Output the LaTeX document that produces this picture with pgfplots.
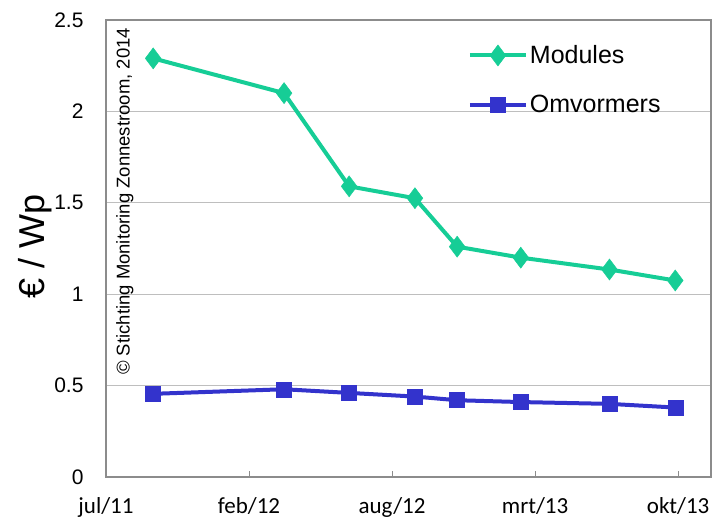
\documentclass[border=0pt]{standalone}
\usepackage{fontspec}
\setmainfont{Liberation Sans}
\newfontfamily\calibri{Carlito}
\usepackage{pgfplots}
\pgfplotsset{compat=1.18}
\definecolor{modgreen}{RGB}{22,205,150}
\definecolor{omvblue}{RGB}{51,51,204}
\definecolor{gridgray}{RGB}{190,190,190}
\definecolor{axgray}{RGB}{140,140,140}
\begin{document}
\begin{tikzpicture}
\useasboundingbox (0,0) rectangle (712bp,520bp);
\begin{axis}[
  at={(106bp,43bp)}, anchor=south west,
  width=605bp, height=457bp, scale only axis=true,
  xmin=0, xmax=4.23, ymin=0, ymax=2.5,
  xtick={0,1,2,3,4},
  xticklabels={jul/11,feb/12,aug/12,mrt/13,okt/13},
  ytick={0,0.5,1,1.5,2,2.5},
  yticklabels={0,0.5,1,1.5,2,2.5},
  xtick pos=bottom, ytick pos=left,
  tick align=inside,
  major tick length=6bp,
  ytick style={draw=none},
  xtick style={axgray, line width=1bp},
  xticklabel style={font=\calibri\fontsize{23bp}{26bp}\selectfont, anchor=base, inner sep=0pt, yshift=-36bp},
  yticklabel style={font=\fontsize{21bp}{24bp}\selectfont, xshift=-19bp},
  ymajorgrids=true,
  grid style={gridgray, line width=1.3bp},
  axis line style={axgray, line width=1.5bp},
  ylabel={€ / Wp},
  every axis y label/.style={at={(rel axis cs:0,0.505)}, xshift=-71bp, rotate=90, anchor=center, font=\fontsize{36bp}{40bp}\selectfont},
  legend style={draw=none, fill=none, at={(rel axis cs:0.593,0.953)}, anchor=north west,
    font=\fontsize{25bp}{28bp}\selectfont, row sep=26bp,
    /tikz/every even column/.append style={column sep=0bp}},
  legend cell align=left,
  legend image code/.code={\draw[mark repeat=2,mark phase=2,#1] plot coordinates {(0bp,0bp) (28bp,0bp) (56bp,0bp)};},
  clip=false,
]
\addplot[modgreen, line width=4bp, mark=diamond*, mark size=10.5bp, mark options={solid, fill=modgreen, line width=0.5bp}]
  coordinates {(0.33,2.29) (1.245,2.10) (1.70,1.59) (2.16,1.525) (2.455,1.26) (2.90,1.20) (3.52,1.135) (3.98,1.075)};
\addlegendentry{Modules}
\addplot[omvblue, line width=4bp, mark=square*, mark size=7.5bp, mark options={solid, fill=omvblue, line width=0.5bp}]
  coordinates {(0.33,0.455) (1.245,0.48) (1.70,0.46) (2.16,0.44) (2.455,0.42) (2.90,0.41) (3.52,0.40) (3.98,0.38)};
\addlegendentry{Omvormers}
\node[rotate=90, anchor=center, font=\fontsize{18.5bp}{20bp}\selectfont] at (rel axis cs:0.031,0.603) {© Stichting Monitoring Zonnestroom, 2014};
\end{axis}
\end{tikzpicture}
\end{document}
